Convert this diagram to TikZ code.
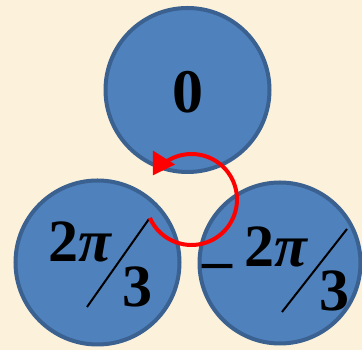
\documentclass[tikz,border=0pt]{standalone}
\usepackage{fontspec}
\setmainfont{Liberation Serif}
\usetikzlibrary{arrows.meta}
\definecolor{bgc}{HTML}{FCF2DC}
\definecolor{ballfill}{HTML}{4F81BD}
\definecolor{ballline}{HTML}{3A6190}
\definecolor{arrred}{HTML}{FF0000}
\tikzset{
  ball/.style={fill=ballfill, draw=ballline, line width=4pt},
  big/.style={inner sep=0pt, font=\fontsize{60}{64}\selectfont\bfseries},
  slash/.style={draw=black, line width=2pt},
  turn/.style={draw=arrred, line width=4pt, -{Triangle[length=21pt,width=25pt]}}
}
\begin{document}
\begin{tikzpicture}[x=1pt,y=1pt]
\fill[bgc] (0,0) rectangle (362,350);
\useasboundingbox (0,0) rectangle (362,350);
% balls
\draw[ball] (187.5,260) circle[radius=82];
\draw[ball] (97.5,87.5) circle[radius=82];
\draw[ball] (280,87) circle[radius=80.5];
% labels
\node[big, anchor=base, font=\fontsize{62}{66}\selectfont\bfseries] (zero) at (188,237) {0};
\node[big, anchor=base west] (ltop) at (48,88) {2{\itshape π}};
\node[big, anchor=base west] (lbot) at (122,43) {3};
\draw[slash] (149,131) -- (87,43);
\node[big, anchor=base west] (rminus) at (202,69) {–};
\node[big, anchor=base west] (rtop) at (244,83) {2{\itshape π}};
\node[big, anchor=base west] (rbot) at (319,39) {3};
\draw[slash] (347,121) -- (282,38);
% rotation arrow
\coordinate (rc) at (191.5,150.5);
\draw[turn] (rc) ++(204:45.5) arc[start angle=204, end angle=508, radius=45.5];
\end{tikzpicture}
\end{document}
